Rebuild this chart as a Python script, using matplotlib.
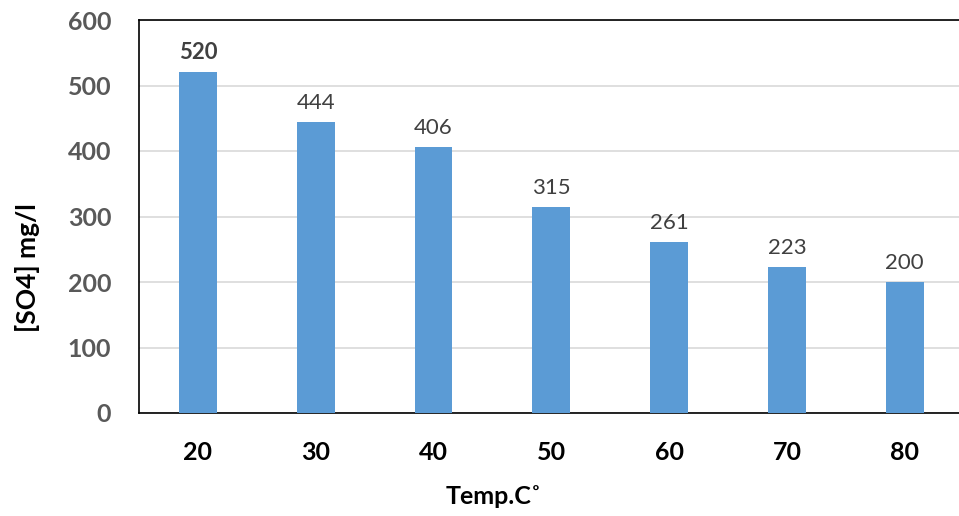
import matplotlib.pyplot as plt
import numpy as np

categories = ["20", "30", "40", "50", "60", "70", "80"]
values = [520, 444, 406, 315, 261, 223, 200]
yticks = [0, 100, 200, 300, 400, 500, 600]

plt.rcParams['font.family'] = ['Lato', 'DejaVu Sans']

fig = plt.figure(figsize=(9.59, 5.16), dpi=100)
ax = fig.add_axes([139/959, 1-413/516, 7*117.8/959, (413-20)/516])

x = np.arange(len(categories))
ax.bar(x, values, width=0.32, color='#5b9bd5', zorder=3)
ax.set_xlim(-0.5, len(categories)-0.5)
ax.set_ylim(0, 600)
ax.set_yticks(yticks)
ax.set_yticklabels([str(t) for t in yticks], fontsize=18, fontweight='bold', color='#595959')
ax.set_xticks(x)
ax.set_xticklabels(categories, fontsize=18, fontweight='bold', color='black')
ax.tick_params(axis='both', length=0)
ax.tick_params(axis='y', pad=20)
ax.tick_params(axis='x', pad=20)
ax.yaxis.grid(True, color='#d9d9d9', linewidth=1.2, zorder=0)
for s in ax.spines.values():
    s.set_color('black')
    s.set_linewidth(1.2)

for i, v in enumerate(values):
    ax.text(i, v + 14, str(v), ha='center', va='bottom', fontsize=16,
            color='#404040', fontweight='bold' if i == 0 else 'normal')

fig.text(28/959, 1-268/516, '[SO4] mg/l', rotation=90, ha='center', va='center',
         fontsize=19, fontweight='bold')
fig.text(494/959, 1-497/516, 'Temp.C˚', ha='center', va='center',
         fontsize=18, fontweight='bold')

fig.savefig('out.png', dpi=100)
